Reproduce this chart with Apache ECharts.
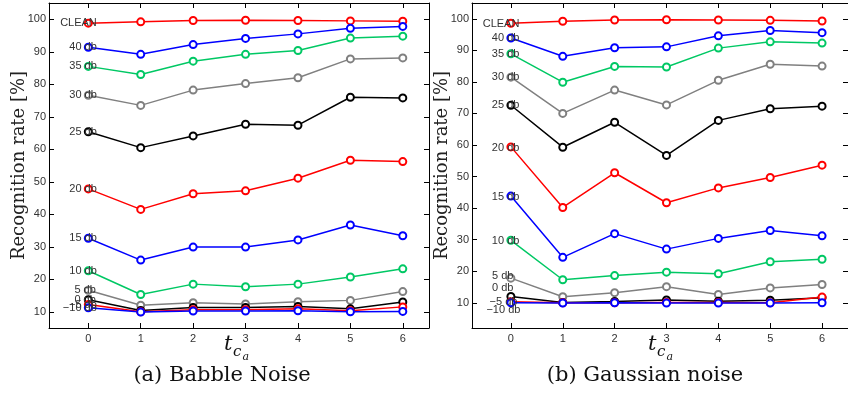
<!DOCTYPE html>
<html>
<head>
<meta charset="utf-8">
<script src="https://cdn.jsdelivr.net/npm/echarts@6/dist/echarts.min.js"></script>
<style>
  html, body { margin: 0; padding: 0; background: #fff; }
  #chart { width: 848px; height: 394px; }
</style>
</head>
<body>
<div id="chart"></div>
<script>
// x values (t_ca) and tick marks
const tcValues = [0, 1, 2, 3, 4, 5, 6];
const babbleYTicks = [10, 20, 30, 40, 50, 60, 70, 80, 90, 100];
const gaussYTicks = [10, 20, 30, 40, 50, 60, 70, 80, 90, 100];

const snrLabels = ['CLEAN', '40 db', '35 db', '30 db', '25 db', '20 db', '15 db', '10 db', '5 db', '0 db', '\u22125 db', '\u221210 db'];

// (a) Babble noise
const babbleClean = [98.8, 99.2, 99.6, 99.7, 99.6, 99.5, 99.4];
const babble40 = [91.4, 89.2, 92.2, 94.1, 95.5, 97.2, 97.8];
const babble35 = [85.5, 83.0, 87.1, 89.2, 90.4, 94.2, 94.8];
const babble30 = [76.6, 73.5, 78.2, 80.2, 82.0, 87.8, 88.1];
const babble25 = [65.4, 60.5, 64.1, 67.7, 67.4, 76.0, 75.8];
const babble20 = [47.8, 41.5, 46.3, 47.2, 51.1, 56.6, 56.2];
const babble15 = [32.6, 25.9, 29.9, 29.9, 32.1, 36.7, 33.4];
const babble10 = [22.6, 15.3, 18.5, 17.7, 18.5, 20.7, 23.2];
const babble5 = [16.6, 12.0, 12.8, 12.4, 13.1, 13.5, 16.2];
const babble0 = [13.7, 10.4, 11.3, 11.3, 11.6, 10.9, 13.0];
const babbleM5 = [12.2, 10.0, 10.6, 10.6, 10.9, 10.3, 11.5];
const babbleM10 = [11.2, 9.9, 10.2, 10.2, 10.3, 10.0, 10.1];

// (b) Gaussian noise
const gaussClean = [98.6, 99.2, 99.6, 99.7, 99.6, 99.5, 99.3];
const gauss40 = [93.9, 88.1, 90.8, 91.1, 94.6, 96.3, 95.6];
const gauss35 = [88.9, 79.9, 84.9, 84.7, 90.7, 92.7, 92.3];
const gauss30 = [81.5, 70.0, 77.4, 72.7, 80.5, 85.6, 85.0];
const gauss25 = [72.6, 59.3, 67.2, 56.7, 67.8, 71.5, 72.3];
const gauss20 = [59.4, 40.2, 51.2, 41.7, 46.4, 49.7, 53.6];
const gauss15 = [43.8, 24.4, 31.9, 27.0, 30.4, 32.9, 31.2];
const gauss10 = [29.8, 17.3, 18.6, 19.7, 19.2, 23.0, 23.8];
const gauss5 = [17.8, 11.9, 13.2, 15.1, 12.6, 14.7, 15.8];
const gauss0 = [12.0, 10.1, 10.4, 10.9, 10.5, 10.8, 11.6];
const gaussM5 = [10.3, 10.0, 10.0, 10.1, 10.1, 10.0, 11.8];
const gaussM10 = [10.0, 9.9, 10.0, 9.9, 9.9, 9.9, 10.0];

const babbleSets = [babbleClean, babble40, babble35, babble30, babble25, babble20,
  babble15, babble10, babble5, babble0, babbleM5, babbleM10];
const gaussSets = [gaussClean, gauss40, gauss35, gauss30, gauss25, gauss20,
  gauss15, gauss10, gauss5, gauss0, gaussM5, gaussM10];

const palette = ['#ff0000', '#0000ff', '#00c864', '#808080', '#000000'];

// label offsets next to the first point (crowded ones moved by hand)
const babbleLabelOffsets = [[13, 0], [13, 0], [13, 0], [13, 0], [13, 0], [13, 0],
  [13, 0], [13, 0], [12, 0], [12, 0], [13, 0], [13, 0]];
const gaussLabelOffsets = [[13, 1], [13, 0], [13, 0], [13, 0], [13, 0], [13, 1],
  [13, 1], [13, 1], [7, -2], [7, -8], [11, 0], [14, 7]];

const serif = '"DejaVu Serif", "Liberation Serif", serif';
const sans = '"Liberation Sans", Arial, sans-serif';

function xAxisPair(gridIndex) {
  const base = {
    gridIndex, type: 'value', min: -0.75, max: 6.5,
    axisLine: { show: true, onZero: false, lineStyle: { color: '#000', width: 1 } },
    axisTick: { show: true, inside: true, length: 5, customValues: tcValues, lineStyle: { color: '#000' } },
    splitLine: { show: false }
  };
  return [
    Object.assign({}, base, {
      position: 'bottom',
      axisLabel: { customValues: tcValues, margin: 5, fontFamily: sans, fontSize: 11, color: '#333' }
    }),
    Object.assign({}, base, { position: 'top', axisLabel: { show: false } })
  ];
}

function yAxisPair(gridIndex, min, ticks) {
  const base = {
    gridIndex, type: 'value', min, max: 105,
    axisLine: { show: true, onZero: false, lineStyle: { color: '#000', width: 1 } },
    axisTick: { show: true, inside: true, length: 5, customValues: ticks, lineStyle: { color: '#000' } },
    splitLine: { show: false }
  };
  return [
    Object.assign({}, base, {
      position: 'left',
      axisLabel: { customValues: ticks, margin: 3, fontFamily: sans, fontSize: 11, color: '#333' },
      name: 'Recognition rate [%]',
      nameLocation: 'middle',
      nameGap: 21,
      nameMoveOverlap: false,
      nameTextStyle: { fontFamily: serif, fontSize: 18, color: '#222' }
    }),
    Object.assign({}, base, { position: 'right', axisLabel: { show: false } })
  ];
}

function buildSeries(sets, offsets, axisIndex) {
  return sets.map((vals, k) => ({
    type: 'line',
    xAxisIndex: axisIndex,
    yAxisIndex: axisIndex,
    data: vals.map((v, i) => [tcValues[i], v]),
    symbol: 'emptyCircle',
    symbolSize: 7,
    lineStyle: { width: 1.5, color: palette[k % 5] },
    itemStyle: { color: palette[k % 5], borderWidth: 1.5 },
    label: {
      show: true,
      position: 'left',
      distance: 0,
      offset: offsets[k],
      fontFamily: sans,
      fontSize: 11,
      color: '#333',
      formatter: p => (p.dataIndex === 0 ? snrLabels[k] : '')
    },
    emphasis: { disabled: true },
    silent: true
  }));
}

// x axis name t_{c_a}: italic t with nested subscripts
function tcaName(cx) {
  const st = (txt, size) => ({ text: txt, font: 'italic ' + size + 'px ' + serif, fill: '#111', textVerticalAlign: 'middle' });
  return {
    type: 'group',
    children: [
      { type: 'text', x: cx - 6, y: 345, style: st('t', 21) },
      { type: 'text', x: cx + 3, y: 352, style: st('c', 15) },
      { type: 'text', x: cx + 12.5, y: 357.5, style: st('a', 11) }
    ]
  };
}

const chart = echarts.init(document.getElementById('chart'), null, { renderer: 'canvas' });

chart.setOption({
  animation: false,
  backgroundColor: '#fff',
  grid: [
    { left: 49, top: 3, width: 380, height: 325 },
    { left: 472, top: 3, width: 380, height: 325 }
  ],
  xAxis: [...xAxisPair(0), ...xAxisPair(1)],
  yAxis: [...yAxisPair(0, 5, babbleYTicks), ...yAxisPair(1, 2, gaussYTicks)],
  series: [
    ...buildSeries(babbleSets, babbleLabelOffsets, 0),
    ...buildSeries(gaussSets, gaussLabelOffsets, 2)
  ],
  graphic: [
    tcaName(230),
    tcaName(654),
    { type: 'text', x: 222, y: 376, style: { text: '(a) Babble Noise', font: '21px ' + serif, fill: '#111', textAlign: 'center', textVerticalAlign: 'middle' } },
    { type: 'text', x: 645, y: 376, style: { text: '(b) Gaussian noise', font: '21px ' + serif, fill: '#111', textAlign: 'center', textVerticalAlign: 'middle' } }
  ]
});
</script>
</body>
</html>
